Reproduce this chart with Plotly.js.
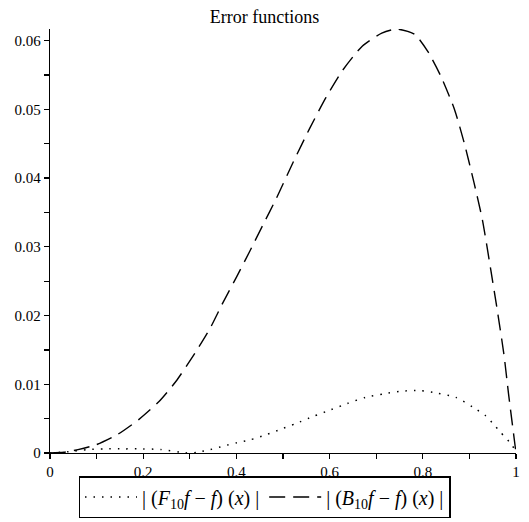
<!DOCTYPE html>
<html>
<head>
<meta charset="utf-8">
<script src="https://cdn.plot.ly/plotly-3.0.1.min.js"></script>
<style>html,body{margin:0;padding:0;background:#fff;}#chart{width:529px;height:522px;}</style>
</head>
<body>
<div id="chart"></div>
<script>
// Error of F_10 approximation (dotted)
const fX = [0, 0.04, 0.082, 0.117, 0.160, 0.199, 0.238, 0.280, 0.298, 0.316, 0.344, 0.372, 0.401, 0.429, 0.465, 0.489, 0.528, 0.564, 0.603, 0.638, 0.677, 0.716, 0.755, 0.793, 0.832, 0.871, 0.907, 0.935, 0.953, 0.967, 0.992, 1.0];
const fY = [0, 0.0002, 0.0005, 0.0006, 0.0006, 0.0006, 0.0005, 0.0001, 0.0, 0.0001, 0.0005, 0.0010, 0.0015, 0.0019, 0.0027, 0.0033, 0.0043, 0.0053, 0.0063, 0.0072, 0.0081, 0.0086, 0.0090, 0.0091, 0.0087, 0.0081, 0.0067, 0.0054, 0.0041, 0.0030, 0.0011, 0.0];
// Error of B_10 approximation (dashed)
const bX = [0, 0.03, 0.06, 0.099, 0.145, 0.191, 0.234, 0.270, 0.309, 0.344, 0.372, 0.401, 0.429, 0.457, 0.486, 0.521, 0.557, 0.592, 0.627, 0.670, 0.712, 0.744, 0.783, 0.811, 0.839, 0.868, 0.889, 0.910, 0.928, 0.946, 0.960, 0.974, 0.984, 1.0];
const bY = [0, 0.0001, 0.0005, 0.0012, 0.0027, 0.0049, 0.0075, 0.0104, 0.0143, 0.0182, 0.0220, 0.0257, 0.0294, 0.0332, 0.0371, 0.0422, 0.0472, 0.0517, 0.0556, 0.0592, 0.0611, 0.0617, 0.0609, 0.0584, 0.0548, 0.0500, 0.0451, 0.0393, 0.0339, 0.0266, 0.0207, 0.0144, 0.0086, 0.0];

const title = 'Error functions';
const nameF = '|\u00a0(<i>F</i><sub>10</sub><i>f</i> − <i>f</i>)\u00a0(<i>x</i>)\u00a0|';
const nameB = '|\u00a0(<i>B</i><sub>10</sub><i>f</i> − <i>f</i>)\u00a0(<i>x</i>)\u00a0|';

function serif(size) { return {family: 'Liberation Serif', size: size, color: '#000'}; }

const traces = [
  {x: fX, y: fY, type: 'scatter', mode: 'lines', name: nameF,
   line: {color: '#000', width: 1.5, dash: '1.5px,7px', shape: 'spline', smoothing: 0.6}},
  {x: bX, y: bY, type: 'scatter', mode: 'lines', name: nameB,
   line: {color: '#000', width: 1.4, dash: '16px,8px', shape: 'spline', smoothing: 0.6}}
];

const layout = {
  width: 529, height: 522,
  margin: {l: 49.5, r: 13, t: 29, b: 69},
  paper_bgcolor: '#fff', plot_bgcolor: '#fff',
  font: serif(15),
  title: {text: title, x: 0.5, xref: 'container', xanchor: 'center', y: 1 - 17/522, yref: 'container', yanchor: 'middle', font: serif(18)},
  showlegend: true,
  legend: {orientation: 'h', xref: 'container', yref: 'container', x: 0.5, xanchor: 'center', y: 1 - 518/522, yanchor: 'bottom',
           bordercolor: '#000', borderwidth: 1.5, bgcolor: '#fff', font: serif(20), itemwidth: 52, tracegroupgap: 0},
  xaxis: {range: [0, 1], showgrid: false, zeroline: false, showline: true, linecolor: '#000', linewidth: 1.3,
          tick0: 0, dtick: 0.2, ticks: 'outside', ticklen: 5, tickcolor: '#000', tickwidth: 1.3,
          minor: {dtick: 0.1, ticks: 'outside', ticklen: 5, tickcolor: '#000', tickwidth: 1.3, showgrid: false},
          tickfont: serif(15), fixedrange: true},
  yaxis: {range: [0, 0.0617], showgrid: false, zeroline: false, showline: true, linecolor: '#000', linewidth: 1.3,
          tick0: 0, dtick: 0.01, ticks: 'outside', ticklen: 5, tickcolor: '#000', tickwidth: 1.3,
          minor: {dtick: 0.005, ticks: 'outside', ticklen: 5, tickcolor: '#000', tickwidth: 1.3, showgrid: false},
          tickfont: serif(15), fixedrange: true}
};

Plotly.newPlot('chart', traces, layout, {displayModeBar: false, staticPlot: true});
</script>
</body>
</html>
